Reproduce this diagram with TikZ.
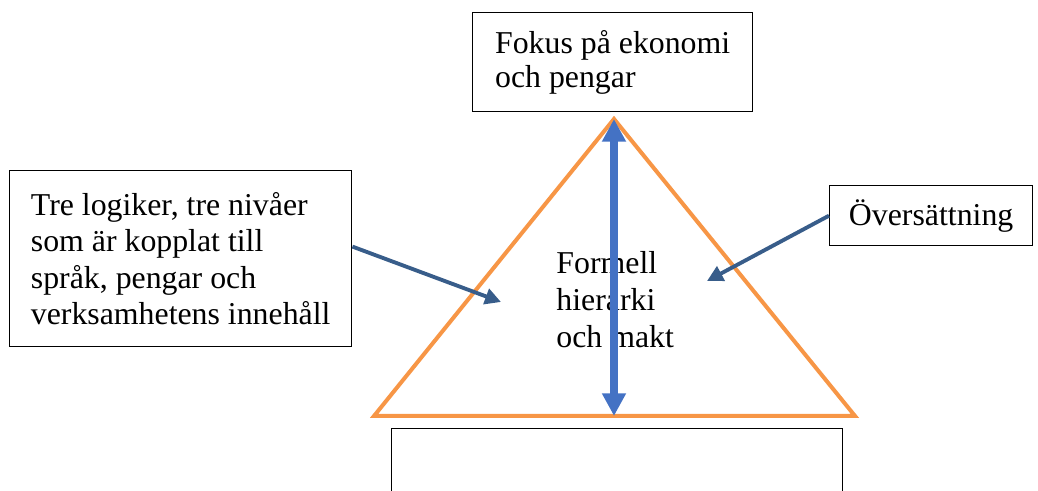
\documentclass[tikz,border=0pt]{standalone}
\usepackage{fontspec}
\setmainfont{Liberation Serif}
\usetikzlibrary{arrows.meta}
\definecolor{triorange}{HTML}{F79646}
\definecolor{axisblue}{HTML}{4472C4}
\definecolor{pointblue}{HTML}{385D8A}
\begin{document}
\begin{tikzpicture}[%
            x=0.44pt, y=-0.44pt,
            mybox/.style={draw, line width=0.6pt, anchor=north west, inner ysep=0pt, align=left},
            mypointer/.style={pointblue, line width=1.7pt, -{Triangle[width=7pt,length=7pt]}},
            myaxis/.style={axisblue, line width=3.5pt, {Triangle[width=10pt,length=10pt]}-{Triangle[width=10pt,length=10pt]}}
    ]
        \clip (0,0) rectangle (1038,491);

        % boxes round the triangle
        \node [mybox, minimum width=123.2pt, minimum height=43.6pt,
               font=\fontsize{14}{14.8}\selectfont] (fokus) at (472,12) {Fokus på ekonomi\\och pengar};
        \node [mybox, minimum width=150.5pt, minimum height=77.4pt,
               font=\fontsize{14}{16}\selectfont] (logik) at (9,170)
              {Tre logiker, tre nivåer\\som är kopplat till\\språk, pengar och\\verksamhetens innehåll};
        \node [mybox, minimum width=89.3pt, minimum height=26.4pt, align=center,
               font=\fontsize{14}{15.8}\selectfont] (oversatt) at (829,185) {Översättning};
        \node [mybox, minimum width=198.4pt, minimum height=35.2pt] (tom) at (391,428) {};

        \node [anchor=north west, inner sep=0pt, align=left,
               font=\fontsize{14}{16.3}\selectfont] (formell) at (556,251) {Formell\\hierarki\\och makt};

        % triangle
        \coordinate (apex) at (614,119);
        \coordinate (bl) at (374,416);
        \coordinate (br) at (855,416);
        \coordinate (bm) at (614,416);
        \draw [triorange, line width=1.76pt] (apex) -- (bl) -- (br) -- cycle;

        \draw [myaxis] (apex) -- (bm);

        \coordinate (pl) at (501,302);
        \coordinate (pr) at (707,281);
        \draw [mypointer] ([yshift=5.3pt]logik.east) -- (pl);
        \draw [mypointer] (oversatt.west) -- (pr);
    \end{tikzpicture}
\end{document}
